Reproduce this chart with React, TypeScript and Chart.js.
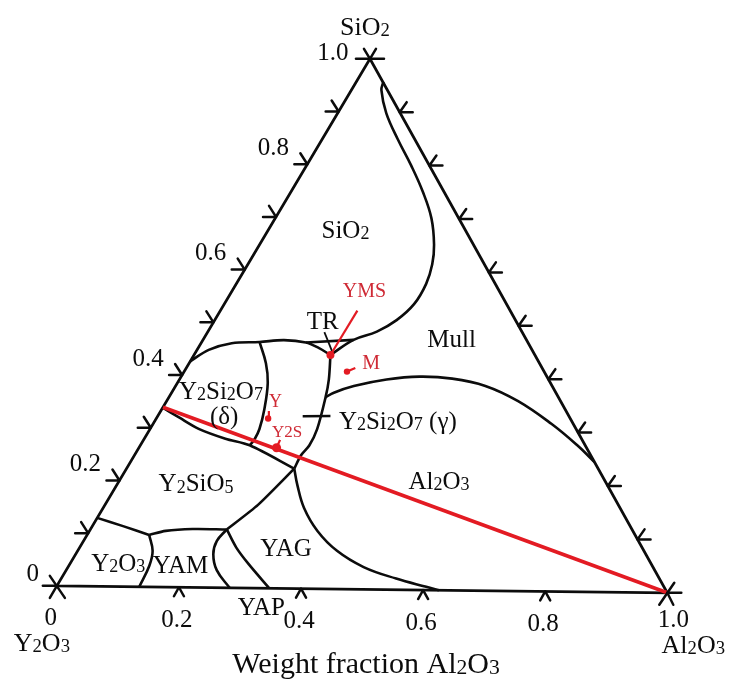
import React, { useEffect, useRef } from 'react';
import { Chart, registerables } from 'chart.js';

Chart.register(...registerables);

// ---------- data: [Al2O3 weight fraction, SiO2 weight fraction] ----------
const TRIANGLE = [[0, 0], [1, 0], [0, 1], [0, 0]];

const SIO2_MULL = [[0.044, 0.957], [0.049, 0.941], [0.079, 0.898], [0.123, 0.849], [0.170, 0.800], [0.215, 0.750], [0.254, 0.701], [0.284, 0.651], [0.300, 0.614], [0.309, 0.577], [0.309, 0.539], [0.296, 0.508], [0.275, 0.486], [0.245, 0.470], [0.222, 0.441]];
const TR_TOP = [[0.170, 0.464], [0.245, 0.470]];
const DELTA_TOP = [[0, 0.426], [0.019, 0.448], [0.050, 0.461], [0.094, 0.464], [0.132, 0.468], [0.170, 0.464], [0.196, 0.454], [0.222, 0.441]];
const DELTA_GAMMA = [[0.094, 0.464], [0.125, 0.424], [0.147, 0.387], [0.167, 0.337], [0.178, 0.300], [0.180, 0.281], [0.178, 0.269]];
const DELTA_BOTTOM = [[0, 0.338], [0.036, 0.320], [0.079, 0.299], [0.132, 0.281], [0.178, 0.269], [0.273, 0.226]];
const GAMMA_LEFT = [[0.222, 0.441], [0.243, 0.395], [0.255, 0.361], [0.272, 0.301], [0.275, 0.270], [0.271, 0.251], [0.273, 0.226]];
const MULL_AL2O3 = [[0.255, 0.361], [0.264, 0.370], [0.290, 0.383], [0.337, 0.396], [0.388, 0.402], [0.443, 0.399], [0.504, 0.386], [0.572, 0.358], [0.648, 0.316], [0.711, 0.276], [0.755, 0.245]];
const YAG_AL2O3 = [[0.273, 0.226], [0.294, 0.195], [0.327, 0.152], [0.371, 0.109], [0.422, 0.072], [0.481, 0.042], [0.545, 0.021], [0.602, 0.006], [0.626, 0]];
const Y2SIO5_YAG = [[0.273, 0.226], [0.249, 0.157], [0.222, 0.110]];
const Y2SIO5_YAM = [[0.222, 0.110], [0.166, 0.110], [0.124, 0.106], [0.101, 0.098]];
const Y2O3_Y2SIO5 = [[0, 0.129], [0.050, 0.114], [0.101, 0.098]];
const Y2O3_YAM = [[0.101, 0.098], [0.122, 0.068], [0.131, 0.040], [0.135, 0]];
const YAM_YAP = [[0.222, 0.110], [0.217, 0.088], [0.224, 0.063], [0.245, 0.033], [0.283, 0]];
const YAP_YAG = [[0.222, 0.110], [0.255, 0.076], [0.290, 0.046], [0.348, 0]];
const GAMMA_TICK = [[0.236, 0.325], [0.281, 0.326]];
const TR_TICK = [[0.190, 0.484], [0.222, 0.447]];

const TIE_LINE = [[0, 0.339], [1, 0]];
const YMS_LINE = [[0.223, 0.525], [0.222, 0.441]];
const M_MARK = [[0.265, 0.410], [0.275, 0.417]];
const Y_MARK = [[0.182, 0.320], [0.176, 0.334]];
const Y2S_MARK = [[0.224, 0.265], [0.222, 0.280]];

const EDGE_TICKS = [0.1, 0.2, 0.3, 0.4, 0.5, 0.6, 0.7, 0.8, 0.9];
const BASE_TICKS = [0.2, 0.4, 0.6, 0.8];
const SIDE_LABELS = ['0.2', '0.4', '0.6', '0.8'];
const BASE_LABELS = ['0.2', '0.4', '0.6', '0.8'];

const REGION_LABELS = ['SiO_2', 'Mull', 'TR', 'Y_2Si_2O_7', '(δ)', 'Y_2Si_2O_7 (γ)', 'Al_2O_3', 'Y_2SiO_5', 'Y_2O_3', 'YAM', 'YAG', 'YAP'];
const REGION_AT = [[0.125, 0.678], [0.403, 0.475], [0.176, 0.506], [0.078, 0.372], [0.108, 0.324], [0.395, 0.319], [0.520, 0.207], [0.127, 0.197], [0.077, 0.046], [0.181, 0.042], [0.336, 0.077], [0.353, -0.035]];
const RED_LABELS = ['YMS', 'M', 'Y', 'Y2S'];
const RED_AT = [[0.215, 0.563], [0.295, 0.429], [0.177, 0.353], [0.225, 0.297]];
const RED_SIZES = [20, 20, 18, 17];

const AXIS_TITLE = 'Weight fraction Al_2O_3';

// ---------- layout / style ----------
const W = 735;
const H = 695;
const ORIGIN_PX = [53, 589];
const UNIT_PX = 618;
const VA = [1, -7 / 618];
const VS = [317 / 618, 534 / 618];
const INK = '#0c0c0c';
const RED = '#e31b23';
const RED_TEXT = '#cf2a35';
const FONT = '"Liberation Serif", "Times New Roman", serif';

const toXY = (p: number[]) => ({ x: p[0] * VA[0] + p[1] * VS[0], y: p[0] * VA[1] + p[1] * VS[1] });

function drawRich(ctx: CanvasRenderingContext2D, text: string, cx: number, cy: number, size: number, color: string) {
  const parts: { t: string; sub: boolean }[] = [];
  let buf = '';
  for (let i = 0; i < text.length; i++) {
    if (text[i] === '_' && i + 1 < text.length) {
      if (buf) parts.push({ t: buf, sub: false });
      buf = '';
      parts.push({ t: text[i + 1], sub: true });
      i++;
    } else buf += text[i];
  }
  if (buf) parts.push({ t: buf, sub: false });
  const subSize = size * 0.72;
  let w = 0;
  for (const p of parts) {
    ctx.font = `${p.sub ? subSize : size}px ${FONT}`;
    w += ctx.measureText(p.t).width;
  }
  let x = cx - w / 2;
  const base = cy + size * 0.34;
  ctx.fillStyle = color;
  ctx.textAlign = 'left';
  ctx.textBaseline = 'alphabetic';
  for (const p of parts) {
    ctx.font = `${p.sub ? subSize : size}px ${FONT}`;
    ctx.fillText(p.t, x, p.sub ? base + size * 0.06 : base);
    x += ctx.measureText(p.t).width;
  }
}

const decorPlugin = {
  id: 'ternaryDecor',
  afterDatasetsDraw(chart: any) {
    const ctx: CanvasRenderingContext2D = chart.ctx;
    const P = (a: number, s: number) => {
      const q = toXY([a, s]);
      return [chart.scales.x.getPixelForValue(q.x), chart.scales.y.getPixelForValue(q.y)];
    };
    const seg = (pts: number[][]) => {
      ctx.beginPath();
      ctx.moveTo(pts[0][0], pts[0][1]);
      for (let i = 1; i < pts.length; i++) ctx.lineTo(pts[i][0], pts[i][1]);
      ctx.stroke();
    };
    ctx.save();
    ctx.strokeStyle = INK;
    ctx.lineWidth = 2.5;
    ctx.lineCap = 'round';
    ctx.lineJoin = 'round';

    for (const s of EDGE_TICKS) {
      const [x, y] = P(0, s);
      seg([[x - 13, y], [x, y], [x - 7, y - 11]]);
      const [u, v] = P(1 - s, s);
      seg([[u + 13, v], [u, v], [u + 7, v - 10]]);
    }
    for (const a of BASE_TICKS) {
      const [x, y] = P(a, 0);
      seg([[x - 5, y + 9], [x, y], [x + 5, y + 9]]);
    }
    // vertex crosses
    const [yx, yy] = P(0, 0);
    seg([[yx - 14, yy], [yx, yy]]);
    seg([[yx, yy], [yx - 7, yy + 12]]);
    seg([[yx - 7, yy - 10], [yx + 8, yy + 12]]);
    const [ax, ay] = P(1, 0);
    seg([[ax + 14, ay], [ax, ay]]);
    seg([[ax, ay], [ax + 6, ay + 12]]);
    seg([[ax + 7, ay - 10], [ax - 8, ay + 12]]);
    const [sx, sy] = P(0, 1);
    seg([[sx - 14, sy], [sx + 14, sy]]);
    seg([[sx, sy], [sx + 6, sy - 10]]);
    seg([[sx, sy], [sx - 6, sy - 10]]);

    // tick labels
    SIDE_LABELS.forEach((t, i) => {
      const [x, y] = P(0, BASE_TICKS[i]);
      drawRich(ctx, t, x - 34, y - 18, 25, INK);
    });
    BASE_LABELS.forEach((t, i) => {
      const [x, y] = P(BASE_TICKS[i], 0);
      drawRich(ctx, t, x - 2, y + 31, 25, INK);
    });
    drawRich(ctx, '0', yx - 24, yy - 13, 25, INK);
    drawRich(ctx, '1.0', sx - 37, sy - 7, 25, INK);
    drawRich(ctx, '0', yx - 6, yy + 31, 25, INK);
    drawRich(ctx, '1.0', ax + 6, ay + 26, 25, INK);
    drawRich(ctx, 'Y_2O_3', yx - 15, yy + 56, 26, INK);
    drawRich(ctx, 'Al_2O_3', ax + 26, ay + 51, 26, INK);
    drawRich(ctx, 'SiO_2', sx - 5, sy - 33, 26, INK);
    drawRich(ctx, AXIS_TITLE, (yx + ax) / 2 + 4, (yy + ay) / 2 + 73, 30, INK);

    REGION_LABELS.forEach((t, i) => {
      const [x, y] = P(REGION_AT[i][0], REGION_AT[i][1]);
      drawRich(ctx, t, x, y, 25, INK);
    });
    RED_LABELS.forEach((t, i) => {
      const [x, y] = P(RED_AT[i][0], RED_AT[i][1]);
      drawRich(ctx, t, x, y, RED_SIZES[i], RED_TEXT);
    });
    ctx.restore();
  },
};

const curve = (pts: number[][], extra: any = {}) => ({
  data: pts.map(toXY),
  showLine: true,
  borderColor: INK,
  borderWidth: 2.6,
  pointRadius: 0,
  pointHoverRadius: 0,
  tension: 0.4,
  fill: false,
  ...extra,
});

export default function App() {
  const ref = useRef<HTMLCanvasElement>(null);
  useEffect(() => {
    if (!ref.current) return;
    const datasets: any[] = [
      curve(YMS_LINE, { borderColor: RED, borderWidth: 2.2, tension: 0, pointRadius: [0, 4], pointBackgroundColor: RED, pointBorderWidth: 0 }),
      curve(M_MARK, { borderColor: RED, borderWidth: 2.2, tension: 0, pointRadius: [3.2, 0], pointBackgroundColor: RED, pointBorderWidth: 0 }),
      curve(Y_MARK, { borderColor: RED, borderWidth: 2.2, tension: 0, pointRadius: [3.2, 0], pointBackgroundColor: RED, pointBorderWidth: 0 }),
      curve(Y2S_MARK, { borderColor: RED, borderWidth: 2.2, tension: 0, pointRadius: [4.5, 0], pointBackgroundColor: RED, pointBorderWidth: 0 }),
      curve(TIE_LINE, { borderColor: RED, borderWidth: 3.6, tension: 0 }),
      curve(TRIANGLE, { borderWidth: 2.8, tension: 0 }),
      curve(SIO2_MULL),
      curve(TR_TOP, { tension: 0 }),
      curve(DELTA_TOP, { tension: 0.35 }),
      curve(DELTA_GAMMA),
      curve(DELTA_BOTTOM, { tension: 0.3 }),
      curve(GAMMA_LEFT, { tension: 0.3 }),
      curve(MULL_AL2O3),
      curve(YAG_AL2O3),
      curve(Y2SIO5_YAG, { tension: 0.2 }),
      curve(Y2SIO5_YAM, { tension: 0.3 }),
      curve(Y2O3_Y2SIO5, { tension: 0.2 }),
      curve(Y2O3_YAM),
      curve(YAM_YAP),
      curve(YAP_YAG, { tension: 0.3 }),
      curve(GAMMA_TICK, { tension: 0 }),
      curve(TR_TICK, { tension: 0, borderWidth: 1.8 }),
    ];
    const chart = new Chart(ref.current, {
      type: 'scatter',
      data: { datasets },
      options: {
        responsive: false,
        animation: false,
        events: [],
        layout: { padding: 0 },
        plugins: { legend: { display: false }, tooltip: { enabled: false }, title: { display: false } },
        scales: {
          x: { type: 'linear', display: false, bounds: 'data', min: -ORIGIN_PX[0] / UNIT_PX, max: (W - ORIGIN_PX[0]) / UNIT_PX },
          y: { type: 'linear', display: false, bounds: 'data', min: -(H - ORIGIN_PX[1]) / UNIT_PX, max: ORIGIN_PX[1] / UNIT_PX },
        },
      },
      plugins: [decorPlugin],
    } as any);
    return () => chart.destroy();
  }, []);
  return (
    <div style={{ position: 'absolute', left: 0, top: 0, width: W, height: H, background: '#fff' }}>
      <canvas ref={ref} width={W} height={H} style={{ display: 'block', width: W, height: H }} />
    </div>
  );
}
